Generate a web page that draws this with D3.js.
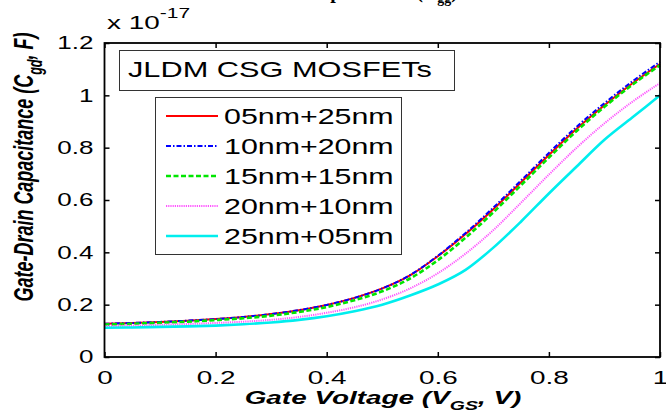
<!DOCTYPE html>
<html>
<head>
<meta charset="utf-8">
<script src="https://cdn.jsdelivr.net/npm/d3@7/dist/d3.min.js"></script>
<style>
body{margin:0;background:#fff;}
text{font-family:Arial,"Liberation Sans",Helvetica,sans-serif;fill:#000;}
</style>
</head>
<body>
<svg class="cgd-ch" width="666" height="418"></svg>
<script>
"use strict";

// gate voltage (V)
var vgs = [0,0.05,0.1,0.15,0.2,0.25,0.3,0.35,0.4,0.45,0.5,0.55,0.6,0.65,0.7,0.75,0.8,0.85,0.9,0.95,1];

// Cgd in units of 1e-17 F
var cgd0525 = [0.127,0.130,0.134,0.139,0.145,0.153,0.164,0.179,0.199,0.226,0.262,0.312,0.385,0.47,0.565,0.668,0.772,0.872,0.962,1.045,1.12];
var cgd1020 = [0.127,0.130,0.134,0.139,0.145,0.153,0.164,0.179,0.199,0.226,0.262,0.313,0.387,0.474,0.571,0.675,0.78,0.88,0.97,1.053,1.128];
var cgd1515 = [0.124,0.127,0.131,0.135,0.141,0.148,0.158,0.172,0.191,0.217,0.251,0.3,0.37,0.456,0.553,0.657,0.762,0.864,0.956,1.04,1.115];
var cgd2010 = [0.118,0.120,0.123,0.126,0.130,0.135,0.142,0.153,0.169,0.19,0.22,0.262,0.32,0.395,0.485,0.59,0.697,0.8,0.893,0.975,1.047];
var cgd2505 = [0.112,0.113,0.115,0.117,0.120,0.125,0.132,0.142,0.156,0.175,0.2,0.235,0.277,0.333,0.418,0.518,0.625,0.728,0.83,0.915,1.0];

var seriesNames = ['05nm+25nm','10nm+20nm','15nm+15nm','20nm+10nm','25nm+05nm'];
var seriesValues = [cgd0525, cgd1020, cgd1515, cgd2010, cgd2505];

var xTicks = [0,0.2,0.4,0.6,0.8,1];
var yTicks = [0,0.2,0.4,0.6,0.8,1,1.2];

// matlab-ish line styles
var colors = ['#ff0000','#0000ff','#00e600','#ff55ff','#00eeee'];
var dashes = [null,'5,2,1.5,2','5,2.5','1.2,1',null];
var widths = [2,2,2.6,2,2.6];

var svg = d3.select('.cgd-ch');
var sx = 1.5; // the figure is stretched horizontally

var pLeft = 104.5, pRight = 660, pTop = 43, pBottom = 357;

var x = d3.scaleLinear().domain([0,1]).range([pLeft,pRight]);
var y = d3.scaleLinear().domain([0,1.2]).range([pBottom,pTop]);

function stretchText(sel, k){
  sel.each(function(){
    var t = d3.select(this);
    var tx = +t.attr('x') || 0, ty = +t.attr('y') || 0;
    t.attr('x',0).attr('y',0)
      .attr('transform','translate('+tx+','+ty+') scale('+k+',1)');
  });
}

// cut off figure title at very top
svg.append('text')
  .attr('x',458).attr('y',-2)
  .attr('text-anchor','end')
  .style('font-family','"Liberation Serif","Times New Roman",serif')
  .style('font-weight','bold')
  .style('font-size','20px')
  .html('Gate Capacitance (C<tspan dy="5" font-size="14">gg</tspan><tspan dy="-5">)</tspan>');

// curves
var line = d3.line()
  .x(function(d){return x(d[0])})
  .y(function(d){return y(d[1])})
  .curve(d3.curveMonotoneX);

var curves = svg.append('g');
seriesValues.forEach(function(vals,i){
  curves.append('path')
    .datum(vgs.map(function(v,j){return [v, vals[j]]}))
    .attr('d',line)
    .attr('fill','none')
    .attr('stroke',colors[i])
    .attr('stroke-width',widths[i])
    .attr('stroke-dasharray',dashes[i]);
});

// axes, matlab box with inward ticks
var fmt = function(d){return String(d)};

var xAxis = svg.append('g')
  .attr('transform','translate(0,'+pBottom+')')
  .call(d3.axisBottom(x).tickValues(xTicks).tickFormat(fmt).tickSize(-5).tickPadding(14));
svg.append('g')
  .attr('transform','translate(0,'+pTop+')')
  .call(d3.axisTop(x).tickValues(xTicks).tickFormat('').tickSize(-5));
var yAxis = svg.append('g')
  .attr('transform','translate('+pLeft+',0)')
  .call(d3.axisLeft(y).tickValues(yTicks).tickFormat(fmt).tickSize(-5).tickPadding(11));
svg.append('g')
  .attr('transform','translate('+pRight+',0)')
  .call(d3.axisRight(y).tickValues(yTicks).tickFormat('').tickSize(-5));

svg.selectAll('.domain').remove();
svg.selectAll('.tick line').attr('stroke','#000').attr('stroke-width',1.5);
svg.selectAll('.tick text').style('font-size','18.6px').attr('fill','#000').style('font-family','Arial,"Liberation Sans",sans-serif');
stretchText(xAxis.selectAll('.tick text'), sx);
stretchText(yAxis.selectAll('.tick text'), 1.4);

svg.append('rect')
  .attr('x',pLeft).attr('y',pTop)
  .attr('width',pRight-pLeft).attr('height',pBottom-pTop)
  .attr('fill','none').attr('stroke','#000').attr('stroke-width',1.8);

// exponent
var expo = svg.append('text')
  .attr('x',107).attr('y',29)
  .style('font-size','18.6px')
  .html('x 10<tspan dy="-11" font-size="14">-17</tspan>');
stretchText(expo, sx);

// axis titles
var xTitle = svg.append('text')
  .attr('x',383).attr('y',404)
  .attr('text-anchor','middle')
  .style('font-size','18.6px').style('font-weight','bold').style('font-style','italic')
  .html('Gate Voltage (V<tspan dy="6" font-size="13px">GS</tspan><tspan dy="-6">, V)</tspan>');
stretchText(xTitle, sx);

var yTitle = svg.append('text')
  .attr('text-anchor','middle')
  .style('font-size','18.6px').style('font-weight','bold').style('font-style','italic')
  .html('Gate-Drain Capacitance (C<tspan dy="6" font-size="13px">gd</tspan><tspan dy="-6">, F)</tspan>');
var yLen = yTitle.node().getComputedTextLength();
yTitle.attr('transform','translate(33,167) scale('+sx+','+(269/yLen)+') rotate(-90)');

// device label box
svg.append('rect')
  .attr('x',119.5).attr('y',50.5).attr('width',335).attr('height',40)
  .attr('fill','#fff').attr('stroke','#333').attr('stroke-width',1);
var lab = svg.append('text')
  .attr('x',128).attr('y',77)
  .style('font-size','21.5px')
  .text('JLDM CSG MOSFETs');
stretchText(lab, 1.43);

// legend
var ly = d3.scalePoint().domain(seriesNames).range([116,236]);
svg.append('rect')
  .attr('x',155.5).attr('y',97.5).attr('width',246).attr('height',157)
  .attr('fill','#fff').attr('stroke','#333').attr('stroke-width',1);

var leg = svg.append('g').selectAll('.leg')
  .data(seriesNames)
  .enter().append('g')
    .attr('class','leg');
leg.append('line')
  .attr('x1',166).attr('x2',218)
  .attr('y1',function(d){return ly(d)}).attr('y2',function(d){return ly(d)})
  .attr('stroke',function(d,i){return colors[i]})
  .attr('stroke-width',function(d,i){return widths[i]})
  .attr('stroke-dasharray',function(d,i){return dashes[i]});
var legText = leg.append('text')
  .attr('x',224)
  .attr('y',function(d){return ly(d)+8})
  .style('font-size','22px')
  .text(function(d){return d});
stretchText(legText, 1.38);
</script>
</body>
</html>
